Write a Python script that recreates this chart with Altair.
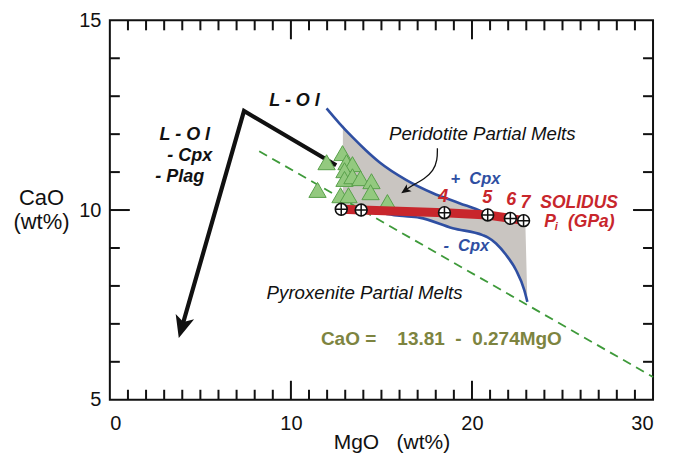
import altair as alt
import pandas as pd

FONT = "Liberation Sans"
BLUE = "#2f4fa2"
RED = "#c8262c"
OLIVE = "#7d8440"
GREEN = "#3e9a3a"
GRAY = "#c9c5c1"
INK = "#111111"

# ---------------- data ----------------
x_tick_labels = [0, 10, 20, 30]
y_tick_labels = [5, 10, 15]
x_minor = list(range(1, 30))
y_minor = list(range(6, 15))
x_major = [10, 20]
y_major = [10]

# green triangles (samples)
tri_mgo = [11.97, 12.85, 13.07, 13.40, 12.96, 12.96, 13.40, 13.84, 14.45, 14.40, 15.33, 12.74, 13.18, 11.47]
tri_cao = [11.26, 11.50, 11.26, 11.21, 11.05, 10.82, 10.89, 10.84, 10.76, 10.47, 10.21, 10.39, 10.39, 10.53]

# solidus points
sol_mgo = [12.78, 13.88, 18.48, 20.87, 22.12, 22.85]
sol_cao = [10.02, 10.00, 9.93, 9.87, 9.78, 9.72]

# upper (+Cpx) blue curve
up_mgo = [11.97, 12.69, 13.40, 14.15, 14.89, 16.38, 17.82, 19.31, 20.57, 20.87]
up_cao = [12.68, 12.28, 11.92, 11.57, 11.26, 10.79, 10.45, 10.18, 9.95, 9.87]

# lower (-Cpx) blue curve
lo_mgo = [13.90, 15.00, 16.00, 17.10, 18.94, 20.59, 20.87, 21.33, 21.88, 22.43, 22.89, 23.06]
lo_cao = [10.00, 9.92, 9.85, 9.80, 9.52, 9.34, 9.28, 9.12, 8.82, 8.42, 7.89, 7.58]

# grey field (peridotite partial melts)
gr_mgo = [12.87, 13.40, 13.90, 14.89, 16.00, 17.10, 17.82, 18.94, 19.31, 20.57, 20.87, 21.33, 21.88, 22.12, 22.43, 22.85, 22.95, 23.06]
gr_top = [12.24, 11.92, 11.70, 11.26, 10.91, 10.62, 10.45, 10.23, 10.18, 9.95, 9.87, 9.84, 9.80, 9.78, 9.76, 9.72, 9.62, 7.58]
gr_bot = [10.06, 10.03, 10.00, 9.92, 9.85, 9.80, 9.69, 9.52, 9.48, 9.34, 9.28, 9.12, 8.82, 8.66, 8.42, 7.95, 7.76, 7.58]

reg_mgo = [8.25, 30.0]
reg_cao = [11.55, 5.60]

# black liquid line of descent
lld_mgo = [12.50, 7.41, 3.99]
lld_cao = [11.18, 12.61, 6.93]
head_mgo = [3.99]
head_cao = [6.93]

# small curved pointer
ptr_mgo = [18.09, 18.09, 17.87, 17.37, 16.82, 16.33]
ptr_cao = [11.63, 11.32, 11.03, 10.82, 10.68, 10.53]
ptr_head_mgo = [16.33]
ptr_head_cao = [10.52]

# ---------------- helpers ----------------
def X(field="x"):
    return alt.X(f"{field}:Q", scale=alt.Scale(domain=[0, 30], nice=False, zero=False),
                 axis=alt.Axis(values=x_tick_labels, ticks=False, domain=False, grid=False,
                               labelFontSize=20, labelPadding=14, labelFont=FONT, labelColor=INK,
                               title="MgO\u00a0\u00a0\u00a0(wt%)", titleFont=FONT, titleFontSize=21,
                               titleFontWeight="normal", titleColor=INK, titleX=282, titleY=43,
                               titleBaseline="middle", titleAlign="center"))

def Y(field="y"):
    return alt.Y(f"{field}:Q", scale=alt.Scale(domain=[5, 15], nice=False, zero=False),
                 axis=alt.Axis(values=y_tick_labels, ticks=False, domain=False, grid=False,
                               labelFontSize=20, labelPadding=9, labelFont=FONT, labelColor=INK,
                               title=["CaO", "(wt%)"], titleFont=FONT, titleFontSize=22,
                               titleFontWeight="normal", titleColor=INK, titleAngle=0,
                               titleX=-69, titleY=184, titleAlign="center",
                               titleBaseline="alphabetic", titleLineHeight=25))

def df(xs, ys, **extra):
    d = pd.DataFrame({"x": xs, "y": ys})
    for k, v in extra.items():
        d[k] = v
    return d

# ---------------- tick marks (inward) ----------------
XMIN, XMAX, YMIN, YMAX = 0, 30, 5, 15
px_x = 30 / 544.0
px_y = 10 / 380.0
rows = []
for v in x_minor:
    L = 19 if v in x_major else 10
    rows.append({"x": v, "x2": v, "y": YMIN, "y2": YMIN + L * px_y})
    rows.append({"x": v, "x2": v, "y": YMAX, "y2": YMAX - L * px_y})
for v in y_minor:
    L = 20 if v in y_major else 10
    rows.append({"x": XMIN, "x2": XMIN + L * px_x, "y": v, "y2": v})
    rows.append({"x": XMAX, "x2": XMAX - L * px_x, "y": v, "y2": v})
ticks = pd.DataFrame(rows)

tick_layer = alt.Chart(ticks).mark_rule(color=INK, strokeWidth=2).encode(
    x=X(), y=Y(), x2="x2:Q", y2="y2:Q")

grey = alt.Chart(pd.DataFrame({"x": gr_mgo, "y": gr_top, "y2": gr_bot})).mark_area(
    color=GRAY, opacity=1).encode(x=X(), y=Y(), y2="y2:Q")

reg = alt.Chart(df(reg_mgo, reg_cao)).mark_line(
    color=GREEN, strokeWidth=1.8, strokeDash=[9, 6]).encode(x=X(), y=Y())

up = alt.Chart(df(up_mgo, up_cao, i=list(range(len(up_mgo))))).mark_line(
    color=BLUE, strokeWidth=2.6, interpolate="monotone").encode(x=X(), y=Y(), order="i:Q")
lo = alt.Chart(df(lo_mgo, lo_cao, i=list(range(len(lo_mgo))))).mark_line(
    color=BLUE, strokeWidth=2.6, interpolate="monotone").encode(x=X(), y=Y(), order="i:Q")

lld = alt.Chart(df(lld_mgo, lld_cao, i=[0, 1, 2])).mark_line(
    color=INK, strokeWidth=4.2, strokeJoin="miter", strokeCap="butt").encode(x=X(), y=Y(), order="i:Q")
ARROW = "M0,-1L0.8,0.85L0,0.4L-0.8,0.85Z"
head = alt.Chart(df(head_mgo, head_cao)).mark_point(
    shape=ARROW, size=576, angle=196, filled=True, color=INK, opacity=1, strokeWidth=0).encode(x=X(), y=Y())

ptr = alt.Chart(df(ptr_mgo, ptr_cao, i=list(range(len(ptr_mgo))))).mark_line(
    color=INK, strokeWidth=1.3, interpolate="basis").encode(x=X(), y=Y(), order="i:Q")
ptr_head = alt.Chart(df(ptr_head_mgo, ptr_head_cao)).mark_point(
    shape=ARROW, size=110, angle=235, filled=True, color=INK, opacity=1, strokeWidth=0).encode(x=X(), y=Y())

tri = alt.Chart(df(tri_mgo, tri_cao)).mark_point(
    shape="triangle-up", size=300, filled=True, fill="#93c97f", stroke="#58a04a",
    strokeWidth=1, opacity=1).encode(x=X(), y=Y())

sol_line = alt.Chart(df(sol_mgo, sol_cao, i=list(range(len(sol_mgo))))).mark_line(
    color=RED, strokeWidth=9).encode(x=X(), y=Y(), order="i:Q")
sol_circ = alt.Chart(df(sol_mgo, sol_cao)).mark_point(
    shape="circle", size=140, filled=True, fill="white", stroke=INK, strokeWidth=1.6,
    opacity=1).encode(x=X(), y=Y())
PLUS = "M-1,0L1,0M0,-1L0,1"
sol_plus = alt.Chart(df(sol_mgo, sol_cao)).mark_point(
    shape=PLUS, size=150, filled=False, stroke=INK, strokeWidth=1.5, opacity=1).encode(x=X(), y=Y())

# ---------------- annotations ----------------
def txt(rows, **style):
    d = pd.DataFrame(rows, columns=["x", "y", "t"])
    return alt.Chart(d).mark_text(font=FONT, **style).encode(x=X(), y=Y(), text="t:N")

black_bi = txt([[10.20, 12.87, "L - O l"],
                [4.14, 11.97, "L - O l"],
                [4.41, 11.42, "- Cpx"],
                [3.86, 10.87, "- Plag"]],
               fontSize=18, fontWeight="bold", fontStyle="italic", color=INK)
black_i = txt([[20.57, 12.00, "Peridotite Partial Melts"],
               [14.07, 7.82, "Pyroxenite Partial Melts"]],
              fontSize=18.7, fontStyle="italic", color=INK)
blue_t = txt([[20.19, 10.82, "+\u00a0\u00a0Cpx"],
              [19.69, 9.05, "-\u00a0\u00a0Cpx"]],
             fontSize=16.5, fontWeight="bold", fontStyle="italic", color=BLUE)
red_num = txt([[18.42, 10.34, "4"], [20.85, 10.32, "5"], [22.17, 10.27, "6"], [22.95, 10.19, "7"]],
              fontSize=18, fontWeight="bold", fontStyle="italic", color=RED)
red_lab = txt([[25.92, 10.18, "SOLIDUS"], [24.32, 9.68, "P"], [26.59, 9.68, "(GPa)"]],
              fontSize=17.5, fontWeight="bold", fontStyle="italic", color=RED)
red_sub = txt([[24.66, 9.56, "i"]], fontSize=11, fontWeight="bold", fontStyle="italic", color=RED)
eq = txt([[18.31, 6.61, "CaO =\u00a0\u00a0\u00a0\u00a013.81\u00a0\u00a0-\u00a0\u00a00.274MgO"]],
         fontSize=19, fontWeight="bold", color=OLIVE)

chart = alt.layer(
    grey, reg, up, lo, lld, head, ptr, ptr_head, tri, sol_line, sol_circ, sol_plus,
    black_bi, black_i, blue_t, red_num, red_lab, red_sub, eq, tick_layer
).properties(
    width=544, height=380,
    autosize=alt.AutoSizeParams(type="none"),
    padding={"left": 102, "top": 12, "right": 20, "bottom": 58},
    background="white",
).configure_view(stroke=INK, strokeWidth=2)

chart.save("out.html", embed_options={"renderer": "svg", "actions": False})
